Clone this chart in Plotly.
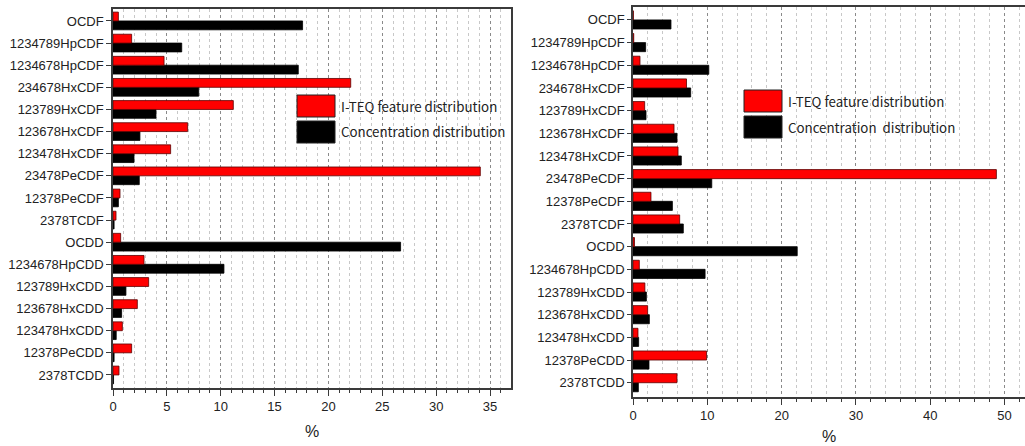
import plotly.graph_objects as go

# categories bottom -> top
categories = ["2378TCDD", "12378PeCDD", "123478HxCDD", "123678HxCDD", "123789HxCDD",
              "1234678HpCDD", "OCDD", "2378TCDF", "12378PeCDF", "23478PeCDF",
              "123478HxCDF", "123678HxCDF", "123789HxCDF", "234678HxCDF",
              "1234678HpCDF", "1234789HpCDF", "OCDF"]

# left panel
left_teq = [0.56, 1.73, 0.87, 2.26, 3.31, 2.88, 0.71, 0.28, 0.65, 34.1,
            5.35, 6.93, 11.17, 22.07, 4.74, 1.73, 0.5]
left_conc = [0.05, 0.1, 0.3, 0.8, 1.2, 10.3, 26.7, 0.1, 0.5, 2.44,
             1.95, 2.5, 3.99, 7.96, 17.2, 6.38, 17.6]

# right panel
right_teq = [5.92, 9.9, 0.67, 1.97, 1.6, 0.85, 0.2, 6.28, 2.42, 48.9,
             6.06, 5.52, 1.57, 7.2, 0.94, 0.1, 0.05]
right_conc = [0.72, 2.15, 0.76, 2.2, 1.8, 9.7, 22.1, 6.77, 5.3, 10.6,
              6.5, 5.92, 1.75, 7.76, 10.2, 1.7, 5.11]

legend_labels = ["I-TEQ feature distribution", "Concentration distribution"]
legend_labels_right = ["I-TEQ feature distribution", "Concentration  distribution"]
xlabel = "%"

W, H = 1025, 446
RED = "#ff0000"
BLACK = "#000000"

fig = go.Figure()
for xa, ya, teq, conc in [("x", "y", left_teq, left_conc), ("x2", "y2", right_teq, right_conc)]:
    fig.add_trace(go.Bar(y=categories, x=conc, orientation="h", xaxis=xa, yaxis=ya,
                         marker=dict(color=BLACK, line=dict(color=BLACK, width=0.8)),
                         name=legend_labels[1], showlegend=False))
    fig.add_trace(go.Bar(y=categories, x=teq, orientation="h", xaxis=xa, yaxis=ya,
                         marker=dict(color=RED, line=dict(color="#5a0000", width=0.8)),
                         name=legend_labels[0], showlegend=False))

def px(x):
    return x / W

def py(y):
    return 1 - y / H

FONT = "Arial"
axis_common = dict(showline=True, linecolor="#3a3a3a", linewidth=1.5,
                   zeroline=False, tickfont=dict(family=FONT, size=13, color="#222"))

fig.update_layout(
    width=W, height=H, margin=dict(l=0, r=0, t=0, b=0),
    plot_bgcolor="white", paper_bgcolor="white",
    barmode="group", bargap=0.2, bargroupgap=0.0,
    xaxis=dict(domain=[px(113), px(511)], range=[0, 36.95], anchor="y", mirror=True,
               tickvals=[0, 5, 10, 15, 20, 25, 30, 35], ticks="outside", ticklen=6, tickwidth=1.2,
               tickcolor="#3a3a3a",
               showgrid=True, gridcolor="#8a8a8a", griddash="dot", gridwidth=1,
               minor=dict(dtick=1, tick0=0, ticks="outside", ticklen=3, tickcolor="#3a3a3a",
                          showgrid=True, gridcolor="#c8c8c8", griddash="dot", gridwidth=1),
               title=dict(text=xlabel, font=dict(family=FONT, size=16, color="#222"),
                          standoff=12),
               automargin=False, **axis_common),
    yaxis=dict(domain=[py(388), py(9)], range=[-0.59, 16.54], anchor="x", mirror=True,
               categoryorder="array", categoryarray=categories,
               ticks="outside", ticklen=5, tickcolor="#3a3a3a", showgrid=False,
               automargin=False, **axis_common),
    xaxis2=dict(domain=[px(633), 1.0], range=[0, 52.75], anchor="y2", mirror=True,
                tickvals=[0, 10, 20, 30, 40, 50], ticks="outside", ticklen=6, tickwidth=1.2,
                tickcolor="#3a3a3a",
                showgrid=True, gridcolor="#8a8a8a", griddash="dot", gridwidth=1,
                minor=dict(dtick=2, tick0=0, ticks="outside", ticklen=3, tickcolor="#3a3a3a",
                           showgrid=True, gridcolor="#c8c8c8", griddash="dot", gridwidth=1),
                title=dict(text=xlabel, font=dict(family=FONT, size=16, color="#222"),
                           standoff=8),
                automargin=False, **axis_common),
    yaxis2=dict(domain=[py(397), py(7)], range=[-0.63, 16.57], anchor="x2", mirror=False,
                categoryorder="array", categoryarray=categories,
                ticks="outside", ticklen=4, tickcolor="#3a3a3a", showgrid=False,
                automargin=False, **axis_common),
)

# custom legends (large swatches as in reference)
def add_legend(x0, y0, labels, size_w=38, size_h=22, gap=4):
    for i, (lab, col) in enumerate(zip(labels, [RED, BLACK])):
        top = y0 + i * (size_h + gap)
        fig.add_shape(type="rect", xref="paper", yref="paper",
                      x0=px(x0), x1=px(x0 + size_w), y0=py(top + size_h), y1=py(top),
                      fillcolor=col, line=dict(color="#222", width=1))
        fig.add_annotation(xref="paper", yref="paper", x=px(x0 + size_w + 4), y=py(top + size_h / 2),
                           text=lab, showarrow=False, xanchor="left", yanchor="middle",
                           font=dict(family="Noto Sans CJK SC, Noto Sans", size=13.3, color="#222"))

add_legend(297, 95, legend_labels)
add_legend(744, 90, legend_labels_right)

fig.write_html("out.html", config={"displayModeBar": False},
               post_script="document.body.style.margin='0';document.body.style.overflow='hidden';")
